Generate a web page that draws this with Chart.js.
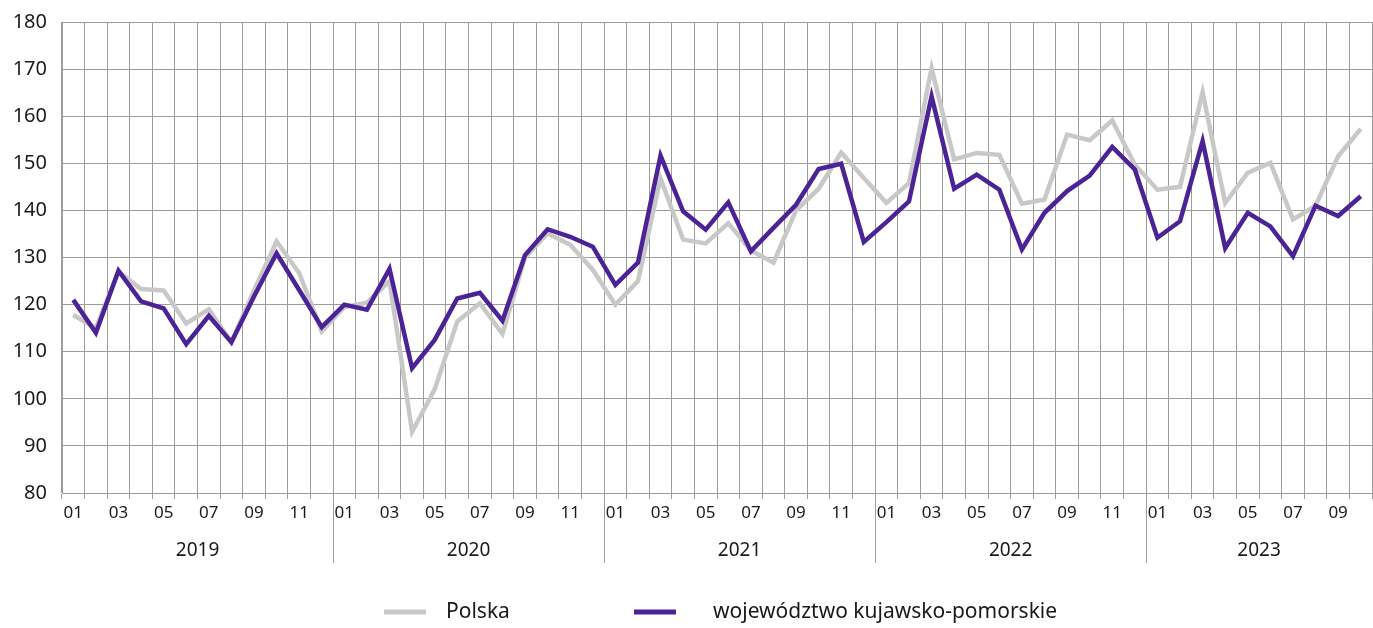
<!DOCTYPE html>
<html>
<head>
<meta charset="utf-8">
<script src="https://cdn.jsdelivr.net/npm/chart.js@4.4.1/dist/chart.umd.min.js"></script>
<style>
  body { margin: 0; background: #fff; }
  #box { width: 1373px; height: 628px; position: relative; }
</style>
</head>
<body>
<div id="box"><canvas id="chart"></canvas></div>
<script>
// tick labels
const years = ['2019', '2020', '2021', '2022', '2023']
const monthsInYear = [12, 12, 12, 12, 10]   /* 2023 ends in October */
const monthNames = ['01', '02', '03', '04', '05', '06', '07', '08', '09', '10', '11', '12']

// series values
const polska = [
  117.8, 115.0, 127.0, 123.3, 123.0, 116.0, 119.0, 112.0, 123.0, 133.4, 126.7, 114.3,
  119.5, 120.4, 125.0, 93.0, 102.0, 116.4, 120.3, 113.8, 130.0, 135.1, 132.7, 127.4,
  120.0, 125.0, 146.8, 133.8, 133.0, 137.3, 131.5, 128.9, 140.0, 144.6, 152.3, 146.9,
  141.6, 145.8, 170.2, 150.8, 152.2, 151.8, 141.4, 142.3, 156.1, 154.9, 159.1, 149.7,
  144.4, 145.0, 165.1, 141.6, 148.0, 150.1, 138.1, 141.0, 151.5, 157.3
]
const kujPom = [
  121.0, 114.0, 127.2, 120.7, 119.2, 111.6, 117.6, 112.0, 121.7, 130.9, 123.1, 115.2,
  120.0, 118.9, 127.6, 106.5, 112.5, 121.3, 122.5, 116.6, 130.5, 136.0, 134.4, 132.3,
  124.2, 128.9, 151.6, 139.8, 135.9, 141.7, 131.3, 136.3, 141.2, 148.8, 149.9, 133.3,
  137.5, 141.9, 164.2, 144.6, 147.6, 144.4, 131.7, 139.5, 144.1, 147.4, 153.5, 148.7,
  134.2, 137.7, 154.7, 132.0, 139.5, 136.6, 130.3, 141.0, 138.8, 143.0
]
const seriesNames = ['Polska', 'województwo kujawsko-pomorskie']

// build month labels
const labels = []
years.forEach((y, yi) => {
  for (let m = 0; m < monthsInYear[yi]; m++) labels.push(monthNames[m])
})

const gridColor = '#9c9c9c'
const textColor = '#1a1a1a'
const fontFamily = "'Noto Sans', 'DejaVu Sans', sans-serif"

// year labels + separators under the month ticks
const yearAxis = {
  id: 'yearAxis',
  afterDraw(chart) {
    const ctx = chart.ctx
    const x = chart.scales.x
    const bottom = chart.chartArea.bottom
    ctx.save()
    ctx.font = `19px ${fontFamily}`
    ctx.fillStyle = textColor
    ctx.textAlign = 'center'
    ctx.textBaseline = 'middle'
    ctx.strokeStyle = gridColor
    ctx.lineWidth = 1
    let start = 0
    years.forEach((y, yi) => {
      const end = start + monthsInYear[yi] - 1
      const mid = (x.getPixelForValue(start) + x.getPixelForValue(end)) / 2
      ctx.fillText(y, mid, bottom + 58)
      if (yi > 0) {
        const sep = Math.round((x.getPixelForValue(start - 1) + x.getPixelForValue(start)) / 2) + 0.5
        ctx.beginPath()
        ctx.moveTo(sep, bottom)
        ctx.lineTo(sep, bottom + 70)
        ctx.stroke()
      }
      start = end + 1
    })
    ctx.restore()
  }
}

// legend drawn at the bottom
const legendBottom = {
  id: 'legendBottom',
  afterDraw(chart) {
    const ctx = chart.ctx
    const cols = [384, 634]   /* left edge of each legend item */
    const gaps = [20, 37]
    const yPos = 612
    ctx.save()
    ctx.font = `21px ${fontFamily}`
    ctx.textBaseline = 'middle'
    ctx.fillStyle = textColor
    chart.data.datasets.forEach((ds, i) => {
      ctx.strokeStyle = ds.borderColor
      ctx.lineWidth = 5
      ctx.beginPath()
      ctx.moveTo(cols[i], yPos)
      ctx.lineTo(cols[i] + 42, yPos)
      ctx.stroke()
      ctx.fillText(ds.label, cols[i] + 42 + gaps[i], yPos)
    })
    ctx.restore()
  }
}

Chart.defaults.font.family = fontFamily
Chart.defaults.color = textColor

new Chart(document.getElementById('chart'), {
  type: 'line',
  data: {
    labels: labels,
    datasets: [
      {
        label: seriesNames[0],
        data: polska,
        borderColor: '#c8c8c8',
        borderWidth: 4.5,
        pointRadius: 0,
        tension: 0,
        order: 2
      },
      {
        label: seriesNames[1],
        data: kujPom,
        borderColor: '#4c2396',
        borderWidth: 4.5,
        pointRadius: 0,
        tension: 0,
        order: 1
      }
    ]
  },
  options: {
    responsive: true,
    maintainAspectRatio: false,
    animation: false,
    layout: { padding: { top: 22, right: 1, left: 0, bottom: 0 } },
    plugins: {
      legend: { display: false },
      tooltip: { enabled: false }
    },
    scales: {
      x: {
        type: 'category',
        offset: true,
        grid: { offset: true, color: gridColor, lineWidth: 1, drawTicks: true, tickLength: 6, tickColor: gridColor },
        border: { color: gridColor },
        ticks: {
          autoSkip: false,
          maxRotation: 0,
          padding: 4,
          font: { size: 17 },
          callback: (v, i) => (i % 2 === 0 ? labels[i] : '')
        },
        afterFit: (scale) => { scale.height = 135; scale.paddingLeft = 0; scale.paddingRight = 0 }
      },
      y: {
        min: 80,
        max: 180,
        grid: { color: gridColor, lineWidth: 1, drawTicks: false },
        border: { color: gridColor },
        ticks: { stepSize: 10, padding: 15, font: { size: 20 } },
        afterFit: (scale) => { scale.width = 62; scale.paddingTop = 0; scale.paddingBottom = 0 }
      }
    }
  },
  plugins: [yearAxis, legendBottom]
})
</script>
</body>
</html>
